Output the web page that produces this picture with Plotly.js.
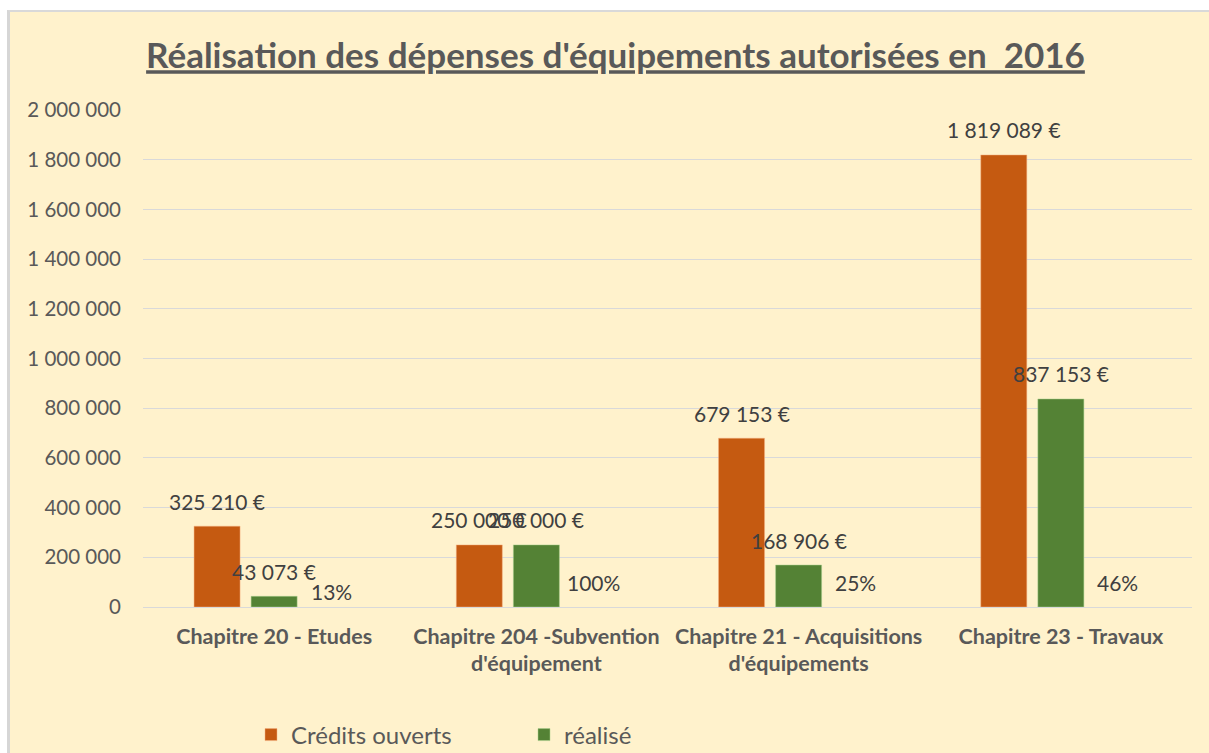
<!DOCTYPE html>
<html>
<head>
<meta charset="utf-8">
<script src="https://cdn.plot.ly/plotly-3.0.1.min.js"></script>
<style>
html,body{margin:0;padding:0;background:#ffffff;width:1209px;height:753px;overflow:hidden;}
#frame{position:absolute;left:7px;top:10px;width:1199px;height:741px;border-left:3px solid #d6d6d6;border-top:2px solid #d9d9d9;background:#FFF2CC;}
#chart{width:1199px;height:741px;}
</style>
</head>
<body>
<div id="frame"><div id="chart"></div></div>
<script>
const categories = [
  "Chapitre 20 - Etudes",
  "Chapitre 204 -Subvention<br>d'équipement",
  "Chapitre 21 - Acquisitions<br>d'équipements",
  "Chapitre 23 - Travaux"
];
const creditsOuverts = [325210, 250000, 679153, 1819089];
const realise = [43073, 250000, 168906, 837153];
const tauxRealisation = ["13%", "100%", "25%", "46%"];
const yTicks = [0, 200000, 400000, 600000, 800000, 1000000, 1200000, 1400000, 1600000, 1800000, 2000000];

const fmtEuro = v => v.toString().replace(/\B(?=(\d{3})+(?!\d))/g, " ") + " €";

const FONT = "Lato, 'Open Sans', sans-serif";
const GRAY = "#595959";
const LABEL = "#404040";

const traces = [
  {type: "bar", name: "Crédits ouverts", x: categories, y: creditsOuverts,
   marker: {color: "#C55A11", line: {color: "#F4B183", width: 0.5}}, hoverinfo: "skip"},
  {type: "bar", name: "réalisé", x: categories, y: realise,
   marker: {color: "#548235", line: {color: "#A9D18E", width: 0.5}}, hoverinfo: "skip"},
  {type: "bar", name: "taux", x: categories, y: categories.map(() => 0),
   marker: {color: "rgba(0,0,0,0)"}, showlegend: false, hoverinfo: "skip"}
];

const slot = 57;
const LBL = {family: FONT, size: 21, color: LABEL};
const annotations = [];
categories.forEach((c, i) => {
  annotations.push({x: c, y: creditsOuverts[i], xref: "x", yref: "y", xshift: -slot, yshift: 25,
    text: fmtEuro(creditsOuverts[i]), showarrow: false, yanchor: "middle", font: LBL});
  annotations.push({x: c, y: realise[i], xref: "x", yref: "y", xshift: 0, yshift: 25,
    text: fmtEuro(realise[i]), showarrow: false, yanchor: "middle", font: LBL});
  annotations.push({x: c, y: 0, xref: "x", yref: "y", xshift: slot, yshift: i === 0 ? 16 : 25,
    text: tauxRealisation[i], showarrow: false, yanchor: "middle", font: LBL});
});

const layout = {
  width: 1199, height: 741,
  paper_bgcolor: "#FFF2CC", plot_bgcolor: "#FFF2CC",
  margin: {l: 133, r: 17, t: 98, b: 146},
  separators: ", ",
  font: {family: FONT, color: GRAY},
  title: {text: "<b><u>Réalisation des dépenses d'équipements autorisées en  2016</u></b>",
    font: {family: FONT, size: 35, color: GRAY},
    xref: "container", x: 0.505, xanchor: "center", yref: "container", y: 1 - 44/741, yanchor: "middle"},
  barmode: "group", bargap: 0.347, bargroupgap: 0.194,
  xaxis: {type: "category", showgrid: false, zeroline: false, showline: false, ticks: "",
    tickfont: {family: FONT, size: 21.5, color: GRAY, weight: "bold"}, ticklabelstandoff: 14, fixedrange: true},
  yaxis: {range: [0, 2000000], tickvals: yTicks, tickformat: ",d", showgrid: true,
    gridcolor: "#D9D9D9", gridwidth: 1, zeroline: true, zerolinecolor: "#D9D9D9", zerolinewidth: 1,
    showline: false, ticks: "", ticklabelstandoff: 21,
    tickfont: {family: FONT, size: 20.5, color: GRAY}, fixedrange: true},
  showlegend: true,
  legend: {orientation: "h", xref: "container", yref: "container", x: 241/1199, xanchor: "left",
    y: 1 - 723/741, yanchor: "middle", bgcolor: "rgba(0,0,0,0)",
    font: {family: FONT, size: 24, color: GRAY}, entrywidth: 228, entrywidthmode: "pixels",
    itemwidth: 30, traceorder: "normal"},
  annotations: annotations
};

Plotly.newPlot("chart", traces, layout, {staticPlot: true, displayModeBar: false});
</script>
</body>
</html>
